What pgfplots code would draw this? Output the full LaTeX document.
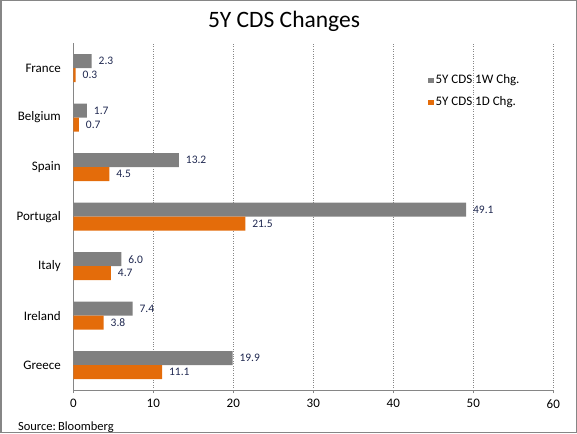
\documentclass[border=0pt]{standalone}
\usepackage{pgfplots}
\pgfplotsset{compat=1.18}
\pgfplotsset{/pgf/number format/assume math mode=true}
\usepackage{fontspec}
\setmainfont{Carlito}
\definecolor{barGray}{RGB}{128,128,128}
\definecolor{barOrange}{RGB}{228,108,10}
\definecolor{lblBlue}{RGB}{31,40,80}
\definecolor{axGray}{RGB}{134,134,134}
\begin{document}
\begin{tikzpicture}[x=1pt,y=1pt]
\useasboundingbox (0,0) rectangle (577,433);
\draw[axGray, line width=1.5pt] (0.75,0.75) rectangle (576.25,432.25);
\node[font=\fontsize{23.5}{28}\selectfont] at (284, 412) {5Y CDS Changes};
\node[anchor=west, font=\fontsize{12.5}{14}\selectfont] at (14.5, 6) {Source:\,Bloomberg};
\begin{axis}[
  at={(73.3pt,43pt)}, anchor=south west, scale only axis,
  width=480pt, height=346.7pt,
  xbar, bar width=14pt,
  xmin=0, xmax=60, ymin=0.5, ymax=7.5,
  axis x line*=bottom, axis y line*=left,
  axis line style={axGray, line width=0.8pt},
  xtick={0,10,...,60},
  ytick={1,...,7},
  yticklabels={Greece,Ireland,Italy,Portugal,Spain,Belgium,France},
  minor ytick={0.5,1.5,...,7.5},
  tick align=outside,
  major tick length=3pt, minor tick length=3pt,
  ytick style={draw=none},
  minor tick style={axGray, line width=0.8pt},
  xtick style={axGray, line width=0.8pt},
  xmajorgrids, grid style={dotted, axGray, line width=0.7pt},
  ticklabel style={font=\fontsize{13}{15}\selectfont, black},
  yticklabel style={xshift=-6pt},
  xticklabel style={yshift=-3pt},
  point meta=x,
  nodes near coords={\pgfmathprintnumber[fixed,fixed zerofill,precision=1,assume math mode=true]{\pgfplotspointmeta}},
  nodes near coords style={font=\fontsize{11.5}{13}\selectfont, color=lblBlue, anchor=west, xshift=3.5pt},
  legend style={at={(rel axis cs:0.733,0.862)}, anchor=west, draw=none, fill=none,
    font=\fontsize{13}{15}\selectfont, row sep=7.5pt},
  legend cell align=left,
  legend image code/.code={\fill (0pt,-2.6pt) rectangle (5.2pt,2.6pt);},
]
\addplot[draw=none, fill=barGray, bar shift=7pt] coordinates {
(19.9,1) (7.4,2) (6.0,3) (49.1,4) (13.2,5) (1.7,6) (2.3,7)};
\addlegendentry{5Y CDS 1W Chg.}
\addplot[draw=none, fill=barOrange, bar shift=-7pt] coordinates {
(11.1,1) (3.8,2) (4.7,3) (21.5,4) (4.5,5) (0.7,6) (0.3,7)};
\addlegendentry{5Y CDS 1D Chg.}
\end{axis}
\end{tikzpicture}
\end{document}
